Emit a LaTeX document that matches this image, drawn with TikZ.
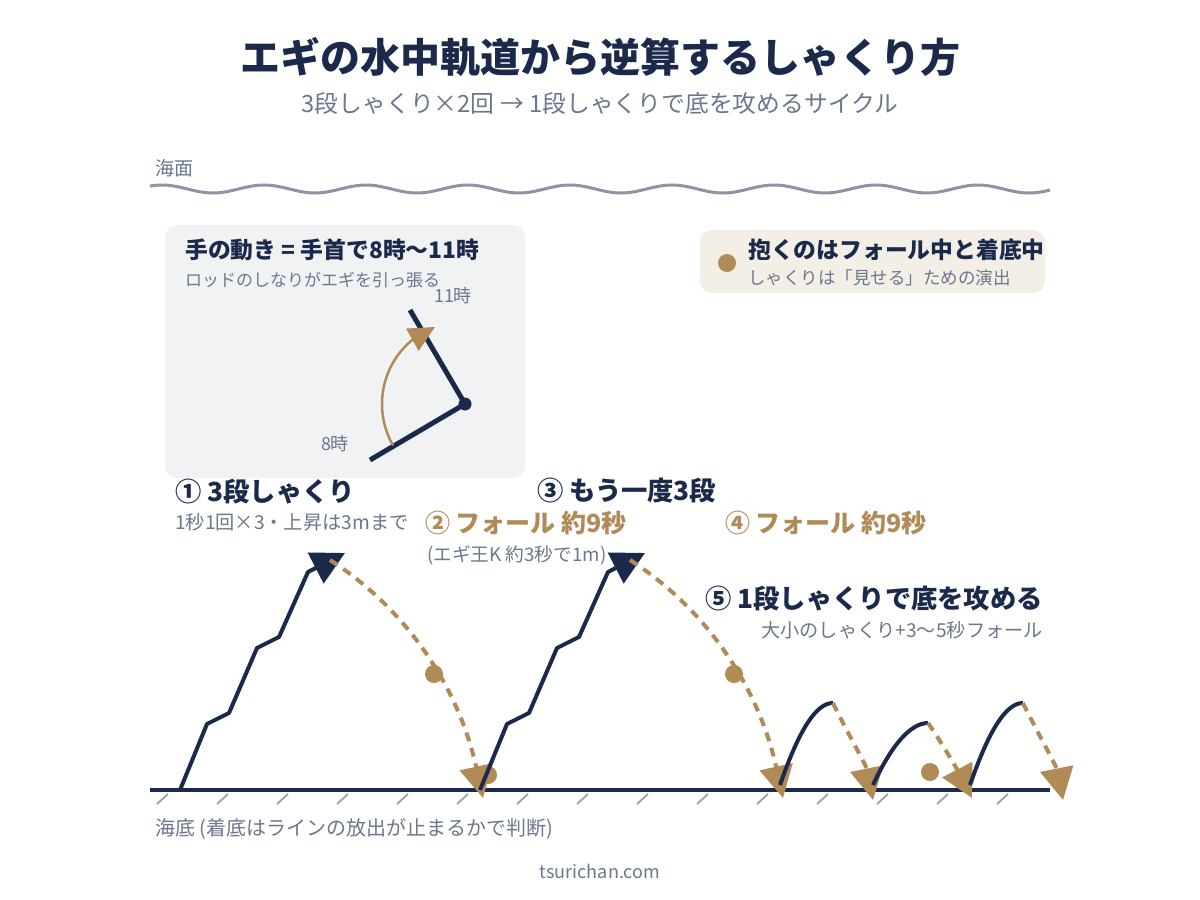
\documentclass[tikz,border=0pt]{standalone}
\usepackage{fontspec}
\usepackage{xcolor}
\usetikzlibrary{arrows.meta}
\setmainfont{Noto Sans CJK JP}
\newcommand{\pxsize}[1]{\fontsize{#1}{#1}\selectfont}
\definecolor{navy}{HTML}{1B294B}
\definecolor{gold}{HTML}{B08B57}
\definecolor{slate}{HTML}{6B778C}
\definecolor{wavegray}{HTML}{8C95A6}
\definecolor{hatchgray}{HTML}{9AA2B0}
\definecolor{insetbg}{HTML}{F1F2F4}
\definecolor{notebg}{HTML}{F3EFE7}

\begin{document}
\begin{tikzpicture}[x = 1pt, y = -1pt,
        plaintext/.style = {inner sep = 0pt, anchor = west, text = slate},
        boldtext/.style = {plaintext, text = navy, font = \bfseries\pxsize{22.8}},
        steptext/.style = {plaintext, text = navy, font = \bfseries\pxsize{26.3}},
        falltext/.style = {plaintext, text = gold, font = \bfseries\pxsize{25}},
        jig/.style = {draw = navy, line width = 4pt, line join = round, -{Triangle[length = 33pt, width = 34pt]}},
        hop/.style = {draw = navy, line width = 4pt},
        fall/.style = {draw = gold, line width = 4pt, dash pattern = on 9pt off 7pt, -{Triangle[length = 32pt, width = 33pt]}},
        holddot/.style = {circle, fill = gold, minimum size = 18pt, inner sep = 0pt}]
    \fill[white] (0,0) rectangle (1200,900);
    \useasboundingbox (0,0) rectangle (1200,900);

    \node[font = \bfseries\pxsize{40}, text = navy, inner sep = 0pt] (title) at (600,57) {エギの水中軌道から逆算するしゃくり方};
    \node[font = \pxsize{23.8}, text = slate, inner sep = 0pt] (subtitle) at (600,103) {3段しゃくり×2回 → 1段しゃくりで底を攻めるサイクル};

    \node[plaintext, font = \pxsize{19}] (surface) at (155,168) {海面};
    \draw[wavegray, line width = 3pt] plot[domain = 150:1050, samples = 200] (\x, {189 + 4*cos(3.5294*(\x - 213))});

    \fill[insetbg, rounded corners = 12pt] (165,225) rectangle (525,478);
    \node[boldtext] (wristhead) at (185,250) {手の動き = 手首で8時〜11時};
    \node[plaintext, font = \pxsize{17}] (wristsub) at (185,280) {ロッドのしなりがエギを引っ張る};
    \coordinate (wrist) at (465,404);
    \coordinate (rod11) at (410,310);
    \coordinate (rod8) at (370,460);
    \coordinate (arctip) at (435,327);
    \draw[navy, line width = 5pt] (rod8) -- (wrist) -- (rod11);
    \node[circle, fill = navy, minimum size = 13pt, inner sep = 0pt] (pivot) at (wrist) {};
    \draw[gold, line width = 2.5pt, -{Triangle[length = 26pt, width = 25pt]}]
        plot[domain = 150:231, samples = 40] ({465 + 83*cos(\x)}, {404 + 83*sin(\x)}) -- (arctip);
    \node[text = slate, font = \pxsize{18}, inner sep = 0pt] (clock11) at (453,296) {11時};
    \node[text = slate, font = \pxsize{18}, inner sep = 0pt] (clock8) at (335,444) {8時};

    \fill[notebg, rounded corners = 12pt] (700,230) rectangle (1045,293);
    \node[holddot] (notedot) at (727,263) {};
    \node[boldtext] (notehead) at (748,250) {抱くのはフォール中と着底中};
    \node[plaintext, font = \pxsize{17.5}] (notesub) at (748,278) {しゃくりは「見せる」ための演出};

    \node[steptext] (step1) at (175,492) {① 3段しゃくり};
    \node[plaintext, font = \pxsize{19.2}] (step1sub) at (175,522) {1秒1回×3・上昇は3mまで};
    \node[falltext] (step2) at (425,523) {② フォール 約9秒};
    \node[plaintext, font = \pxsize{18.7}] (step2sub) at (427,555) {(エギ王K 約3秒で1m)};
    \node[steptext] (step3) at (537,491) {③ もう一度3段};
    \node[falltext] (step4) at (725,523) {④ フォール 約9秒};
    \node[steptext, anchor = east] (step5) at (1043,598) {⑤ 1段しゃくりで底を攻める};
    \node[plaintext, anchor = east, font = \pxsize{19.2}] (step5sub) at (1043,630) {大小のしゃくり+3〜5秒フォール};

    \draw[navy, line width = 4pt] (150,790) -- (1050,790);
    \foreach \hx in {157,217,...,997}
        \draw[hatchgray, line width = 1.8pt] (\hx,804) -- ++(11,-10);

    \coordinate (jig1) at (180,790);
    \coordinate (top1) at (345,553);
    \coordinate (fall1) at (330,560);
    \coordinate (land1) at (483,798);
    \draw[jig] (jig1) -- ++(27,-66) -- ++(22,-11) -- ++(28,-65) -- ++(22,-11) -- ++(29,-65) -- (top1);
    \draw[fall] (fall1) .. controls +(78,50) and +(-24,-109) .. (land1);
    \node[holddot] (mid1) at (434,674) {};
    \node[holddot] (bottom1) at (488,775) {};

    \coordinate (jig2) at (480,790);
    \coordinate (top2) at (645,553);
    \coordinate (fall2) at (630,560);
    \coordinate (land2) at (783,798);
    \draw[jig] (jig2) -- ++(27,-66) -- ++(22,-11) -- ++(28,-65) -- ++(22,-11) -- ++(29,-65) -- (top2);
    \draw[fall] (fall2) .. controls +(78,50) and +(-24,-109) .. (land2);
    \node[holddot] (mid2) at (734,674) {};

    \coordinate (hop1) at (780,785);
    \coordinate (peak1) at (833,703);
    \coordinate (land3) at (873,800);
    \draw[hop] (hop1) .. controls +(19,-55) and +(-17,0) .. (peak1);
    \draw[fall] (peak1) .. controls +(13,27) and +(-7,-35) .. (land3);

    \coordinate (hop2) at (873,785);
    \coordinate (peak2) at (928,723);
    \coordinate (land4) at (972,798);
    \draw[hop] (hop2) .. controls +(19,-41) and +(-17,0) .. (peak2);
    \node[holddot] (bottom2) at (930,772) {};
    \draw[fall] (peak2) .. controls +(14,20) and +(-14,-27) .. (land4);

    \coordinate (hop3) at (970,785);
    \coordinate (peak3) at (1023,703);
    \coordinate (land5) at (1063,800);
    \draw[hop] (hop3) .. controls +(19,-55) and +(-17,0) .. (peak3);
    \draw[fall] (peak3) .. controls +(13,27) and +(-7,-35) .. (land5);

    \node[plaintext, font = \pxsize{20}] (seabed) at (155,829) {海底 (着底はラインの放出が止まるかで判断)};
    \node[text = slate, font = \pxsize{18}, inner sep = 0pt] (site) at (600,871) {tsurichan.com};
\end{tikzpicture}
\end{document}
